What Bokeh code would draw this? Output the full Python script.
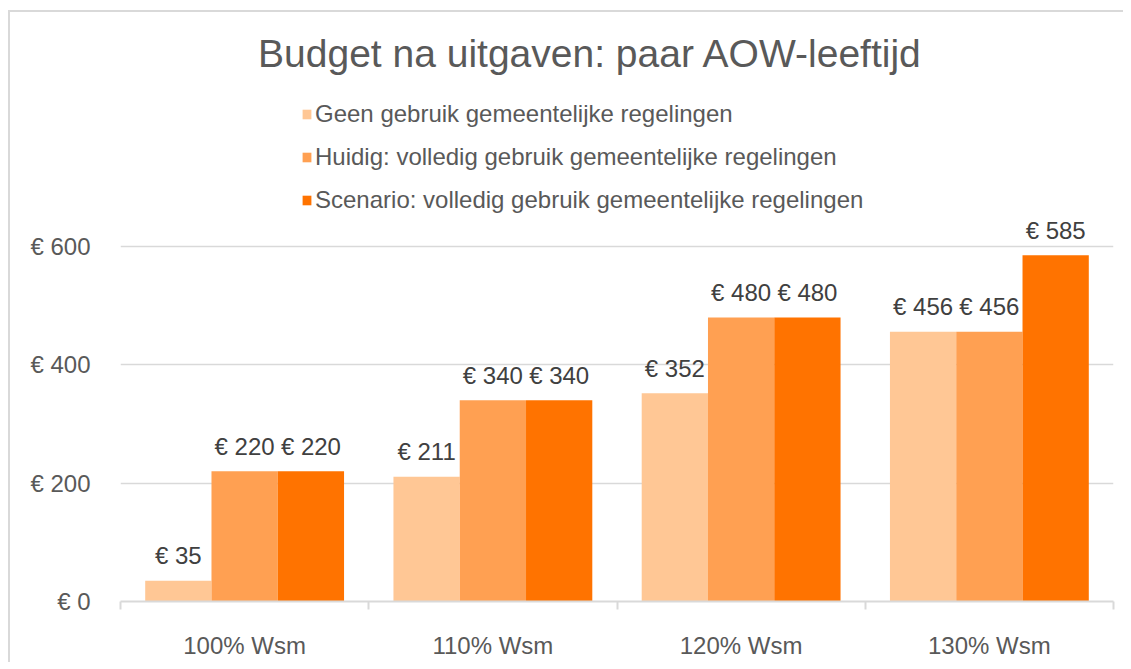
from bokeh.plotting import figure
from bokeh.models import (ColumnDataSource, FixedTicker, Label, Legend, LegendItem)
from bokeh.transform import dodge
from bokeh.core.properties import value
from bokeh.embed import file_html
from bokeh.resources import INLINE

categories = ["100% Wsm", "110% Wsm", "120% Wsm", "130% Wsm"]
series_names = ["Geen gebruik gemeentelijke regelingen",
                "Huidig: volledig gebruik gemeentelijke regelingen",
                "Scenario: volledig gebruik gemeentelijke regelingen"]
geen = [35, 211, 352, 456]
huidig = [220, 340, 480, 456]
scenario = [220, 340, 480, 585]
y_ticks = [0, 200, 400, 600]
y_tick_labels = ["€ 0", "€ 200", "€ 400", "€ 600"]
title_text = "Budget na uitgaven: paar AOW-leeftijd"

colors = ["#FFC795", "#FFA052", "#FF7300"]
FONT = "Liberation Sans"
TXT = "#595959"

xc = [i + 0.5 for i in range(len(categories))]
src = ColumnDataSource(dict(
    xc=xc, geen=geen, huidig=huidig, scenario=scenario,
    lg=[f"€ {v}" for v in geen],
    lh=[f"€ {v}" for v in huidig],
    ls=[f"€ {v}" for v in scenario],
))

p = figure(width=1115, height=652, output_backend="svg", toolbar_location=None,
           x_range=(0, len(categories)), y_range=(0, 988.7),
           min_border_left=110, min_border_right=12, min_border_top=4,
           min_border_bottom=63)
p.outline_line_color = None
p.background_fill_color = "white"
p.border_fill_color = "white"
p.styles = {"position": "absolute", "left": "10px", "top": "12px",
            "box-shadow": "-2px -2px 0px 0px #D9D9D9"}

w = 0.267
offs = [-w, 0.0, w]
fields = ["geen", "huidig", "scenario"]
lfields = ["lg", "lh", "ls"]
renderers = []
for f, lf, o, c in zip(fields, lfields, offs, colors):
    r = p.vbar(x=dodge("xc", o), top=f, width=w, source=src,
               fill_color=c, line_color=None)
    renderers.append(r)
    p.text(x=dodge("xc", o), y=f, text=lf, source=src, text_align="center",
           text_baseline="alphabetic", y_offset=-25,
           text_font=value(FONT), text_font_size="24px", text_color="#404040")

# axes
p.xaxis.ticker = FixedTicker(ticks=xc, minor_ticks=list(range(len(categories) + 1)))
p.xaxis.major_label_overrides = {x: c for x, c in zip(xc, categories)}
p.xaxis.major_tick_line_color = None
p.xaxis.minor_tick_line_color = "#D9D9D9"
p.xaxis.minor_tick_line_width = 2
p.xaxis.minor_tick_out = 8
p.xaxis.minor_tick_in = 0
p.xaxis.axis_line_color = "#D9D9D9"
p.xaxis.axis_line_width = 2
p.xaxis.major_label_text_font = FONT
p.xaxis.major_label_text_font_size = "24px"
p.xaxis.major_label_text_color = TXT
p.xaxis.major_label_standoff = 22

p.yaxis.ticker = FixedTicker(ticks=y_ticks)
p.yaxis.major_label_overrides = {t: l for t, l in zip(y_ticks, y_tick_labels)}
p.yaxis.axis_line_color = None
p.yaxis.major_tick_line_color = None
p.yaxis.minor_tick_line_color = None
p.yaxis.major_label_text_font = FONT
p.yaxis.major_label_text_font_size = "24px"
p.yaxis.major_label_text_color = TXT
p.yaxis.major_label_standoff = 24

p.xgrid.grid_line_color = None
p.ygrid.ticker = FixedTicker(ticks=y_ticks[1:])
p.ygrid.grid_line_color = "#D9D9D9"
p.ygrid.grid_line_width = 1.5

# title
p.add_layout(Label(x=470, y=548, x_units="screen", y_units="screen",
                   text=title_text, text_align="center", text_baseline="alphabetic",
                   text_font=FONT, text_font_size="39px", text_color=TXT))

# legend
legend = Legend(items=[LegendItem(label=n, renderers=[r]) for n, r in zip(series_names, renderers)],
                location=(181, 387), orientation="vertical",
                glyph_width=11, glyph_height=12, label_standoff=3,
                label_height=24, spacing=15, padding=0, margin=0,
                border_line_color=None, background_fill_alpha=0,
                label_text_font=FONT, label_text_font_size="24px",
                label_text_color=TXT)
p.add_layout(legend, "center")

open("out.html", "w").write(file_html(p, INLINE))
